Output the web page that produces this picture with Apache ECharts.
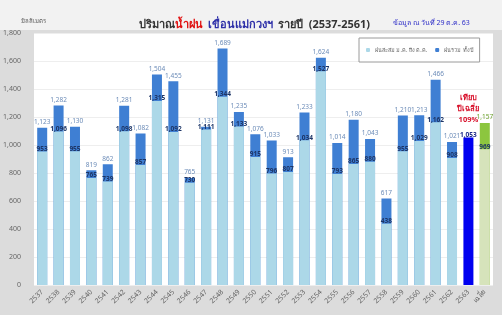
<!DOCTYPE html>
<html><head><meta charset="utf-8">
<script src="https://cdn.jsdelivr.net/npm/echarts@6/dist/echarts.min.js"></script>
<style>html,body{margin:0;padding:0;background:#dcdcdc}#c{width:502px;height:315px}</style>
</head><body><div id="c"></div>
<script>
// Categories: Buddhist-era years 2537..2563 plus the average column
const categories = ['2537','2538','2539','2540','2541','2542','2543','2544','2545','2546','2547','2548','2549','2550','2551','2552','2553','2554','2555','2556','2557','2558','2559','2560','2561','2562','2563','เฉลี่ย'];
// Full-year rainfall (mm) – dark bars, labels above
const annualTotal = [1123,1282,1130,819,862,1281,1082,1504,1455,765,1131,1689,1235,1076,1033,913,1233,1624,1014,1180,1043,617,1210,1213,1466,1021,null,1157];
// Rainfall accumulated Jan – 29 Oct (mm) – light bars, labels at their top
const toDate = [953,1096,955,765,739,1098,857,1315,1092,730,1111,1344,1133,915,796,807,1034,1527,793,865,880,438,955,1029,1162,908,1053,969];
const yTicks = {min:0, max:1800, interval:200};
const noteLines = ['เทียบ','ปีเฉลี่ย','109%'];
const legendNames = ['ฝนสะสม ม.ค. ถึง ต.ค.','ฝนรวม ทั้งปี'];

const fmt = v => (v==null?'':Number(v).toLocaleString('en-US'));
const iCur = categories.indexOf('2563');
const iAvg = categories.length - 1;

const totalData = annualTotal.map((v,i)=>{
  if(i===iAvg) return {value:v, itemStyle:{color:'#8cc63f'}, label:{color:'#6aa02a'}};
  return v;
});
const toDateData = toDate.map((v,i)=>{
  if(i===iCur) return {value:v, itemStyle:{color:'#0000f0'}};
  if(i===iAvg) return {value:v, itemStyle:{color:'#d6e3bb'}};
  return v;
});

const chart = echarts.init(document.getElementById('c'), null, {renderer:'canvas'});
chart.setOption({
  backgroundColor:'#dcdcdc',
  animation:false,
  graphic:[{type:'rect', left:0, top:0, shape:{width:502, height:30}, style:{fill:'#f2f2f2'}, z:-10}],
  title:[
    {text:'{a|ปริมาณ}{r|น้ำฝน} {b|เขื่อนแม่กวงฯ} {a|รายปี  (2537-2561)}', left:134, top:11,
     textStyle:{rich:{a:{fontSize:11,color:'#333',fontFamily:'Noto Sans'},r:{fontSize:11,color:'#e01010',fontFamily:'Noto Sans'},b:{fontSize:11,color:'#2d2fa8',fontFamily:'Noto Sans'}}}},
    {text:'ข้อมูล ณ วันที่ 29 ต.ค. 63', left:388, top:14, textStyle:{fontSize:7,color:'#3030c8',fontWeight:'normal',fontFamily:'Noto Sans'}},
    {text:'มิลลิเมตร', left:16, top:13, textStyle:{fontSize:6,color:'#555',fontWeight:'normal',fontFamily:'Noto Sans'}}
  ],
  legend:{left:359, top:38, orient:'horizontal', padding:[9,7], itemWidth:4, itemHeight:4, itemGap:8,
    backgroundColor:'#fff', borderColor:'#9a9a9a', borderWidth:1,
    textStyle:{fontSize:5.5,color:'#666',fontFamily:'Noto Sans'},
    data:legendNames},
  grid:{left:34, right:9, top:33, bottom:30, show:true, backgroundColor:'#fff', borderWidth:0},
  xAxis:{type:'category', data:categories,
    axisLine:{show:false}, axisTick:{show:false},
    axisLabel:{rotate:45, fontSize:7, color:'#666', margin:6, interval:0, fontFamily:'Noto Sans'}},
  yAxis:{type:'value', min:yTicks.min, max:yTicks.max, interval:yTicks.interval,
    axisLine:{show:false}, axisTick:{show:false},
    splitLine:{lineStyle:{color:'#eeeeee'}},
    axisLabel:{fontSize:7, color:'#666', margin:13, formatter:v=>fmt(v), fontFamily:'Noto Sans'}},
  series:[
    {name:legendNames[1], type:'bar', data:totalData, barWidth:10, barGap:'-100%',
     itemStyle:{color:'#3f7fd3'},
     label:{show:true, position:'top', distance:2, fontSize:6.5, color:'#6c8cb8', formatter:p=>fmt(p.value), fontFamily:'Noto Sans'}},
    {name:legendNames[0], type:'bar', data:toDateData, barWidth:10, barGap:'-100%',
     itemStyle:{color:'#acd8e8'},
     label:{show:true, position:'top', distance:-1, fontSize:6.5, fontWeight:'bold', color:'#1d3566', fontFamily:'Noto Sans',
       formatter:p=>{
         if(p.dataIndex===iCur) return noteLines.map(t=>'{r|'+t+'}').join('\n')+'\n{s| }\n{b|'+fmt(p.value)+'}';
         return fmt(p.value);
       },
       rich:{r:{fontSize:7.5,fontWeight:'bold',color:'#d8102a',lineHeight:11,fontFamily:'Noto Sans'},
             s:{fontSize:4,lineHeight:6},
             b:{fontSize:6.5,fontWeight:'bold',color:'#1d2a8a',fontFamily:'Noto Sans'}}}}
  ]
});
</script></body></html>
